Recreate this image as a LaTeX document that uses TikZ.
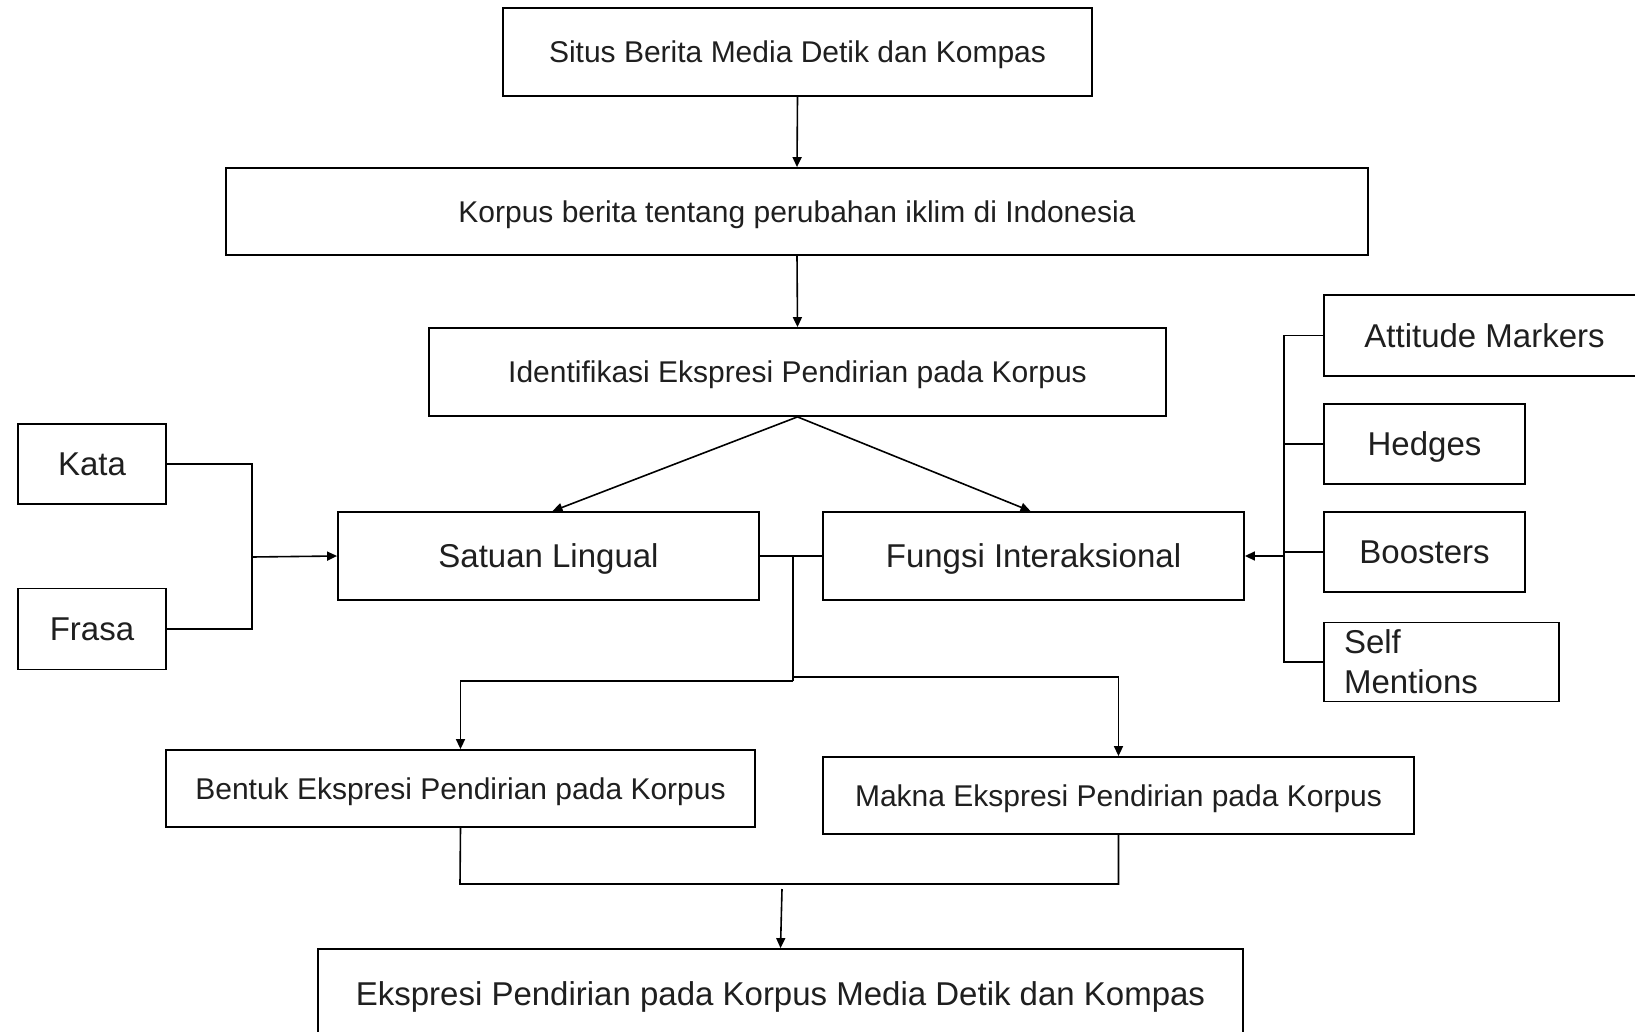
\documentclass[tikz,border=0pt]{standalone}
\usepackage{fontspec}
\setmainfont{Liberation Sans}
\usetikzlibrary{arrows.meta,calc}
\begin{document}
\begin{tikzpicture}[x=1pt,y=-1pt,
  box/.style={draw=black, line width=1.8pt, rectangle, inner sep=0pt, text=black!88, align=center},
  smalltxt/.style={font=\fontsize{30}{36}\selectfont, text height=24pt, text depth=2.4pt},
  bigtxt/.style={font=\fontsize{33}{40}\selectfont, text height=26.4pt, text depth=2.6pt},
  conn/.style={draw=black, line width=1.6pt},
  arr/.style={conn, -{Triangle[length=10pt,width=9pt]}}]
\useasboundingbox (0,0) rectangle (1635,1032);
\fill[white] (0,0) rectangle (1635,1032);
\begin{scope}
\clip (0,0) rectangle (1635,1032);
% main column
\node[box,smalltxt,minimum width=589pt,minimum height=88pt] (n1) at (797.5,52) {Situs Berita Media Detik dan Kompas};
\node[box,smalltxt,minimum width=1142pt,minimum height=87pt] (n2) at (797,211.5) {Korpus berita tentang perubahan iklim di Indonesia};
\node[box,smalltxt,minimum width=737pt,minimum height=88pt] (n3) at (797.5,372) {Identifikasi Ekspresi Pendirian pada Korpus};
\node[box,bigtxt,minimum width=421pt,minimum height=88pt] (sl) at (548.5,556) {Satuan Lingual};
\node[box,bigtxt,minimum width=421pt,minimum height=88pt] (fi) at (1033.5,556) {Fungsi Interaksional};
% left
\node[box,bigtxt,minimum width=148pt,minimum height=80pt] (kata) at (92,464) {Kata};
\node[box,bigtxt,minimum width=148pt,minimum height=81pt] (frasa) at (92,629) {Frasa};
% right
\node[box,bigtxt,minimum width=321pt,minimum height=81pt] (am) at (1484.5,335.5) {Attitude Markers};
\node[box,bigtxt,minimum width=201pt,minimum height=80pt] (hedges) at (1424.5,444) {Hedges};
\node[box,bigtxt,minimum width=201pt,minimum height=80pt] (boosters) at (1424.5,552) {Boosters};
\node[box,font=\fontsize{33}{40}\selectfont,minimum width=235pt,minimum height=79pt,text width=195pt,align=left,inner xsep=20pt] (self) at (1441.5,662) {Self\\Mentions};
% lower
\node[box,smalltxt,minimum width=589pt,minimum height=77pt] (bentuk) at (460.5,788.5) {Bentuk Ekspresi Pendirian pada Korpus};
\node[box,smalltxt,minimum width=591pt,minimum height=77pt] (makna) at (1118.5,795.5) {Makna Ekspresi Pendirian pada Korpus};
\node[box,bigtxt,minimum width=925pt,minimum height=90pt] (final) at (780.5,994) {Ekspresi Pendirian pada Korpus Media Detik dan Kompas};

% coordinates
\coordinate (lb) at (252,557);
\coordinate (rb) at (1284,556);
\coordinate (j) at (793,557);
\coordinate (jl) at (793,681);
\coordinate (jr) at (793,677);
\coordinate (bot) at (460,884);
\coordinate (ftop) at (782,889);

% connectors
\draw[arr] (n1.south) -- (n2.north);
\draw[arr] (n2.south) -- (n3.north);
\draw[arr] (n3.south) -- ([xshift=4pt]sl.north);
\draw[arr] (n3.south) -- ([xshift=-3pt]fi.north);

\draw[conn] (kata.east) -| (lb |- frasa.east) -- (frasa.east);
\draw[arr] (lb) -- (sl.west);

\draw[conn] (am.west) -| (rb |- self.west) -- (self.west);
\draw[conn] (hedges.west) -- (rb |- hedges.west);
\draw[conn] (boosters.west) -- (rb |- boosters.west);
\draw[arr] (rb) -- (fi.east);

\draw[conn] (sl.east) -- (fi.west);
\draw[conn] (j) -- (jl);
\draw[arr] (jl) -| (bentuk.north);
\draw[arr] (jr) -| (makna.north);

\draw[conn] (bentuk.south) -- (bot) -| (makna.south);
\draw[arr] (ftop) -- (final.north);
\end{scope}
\end{tikzpicture}
\end{document}
